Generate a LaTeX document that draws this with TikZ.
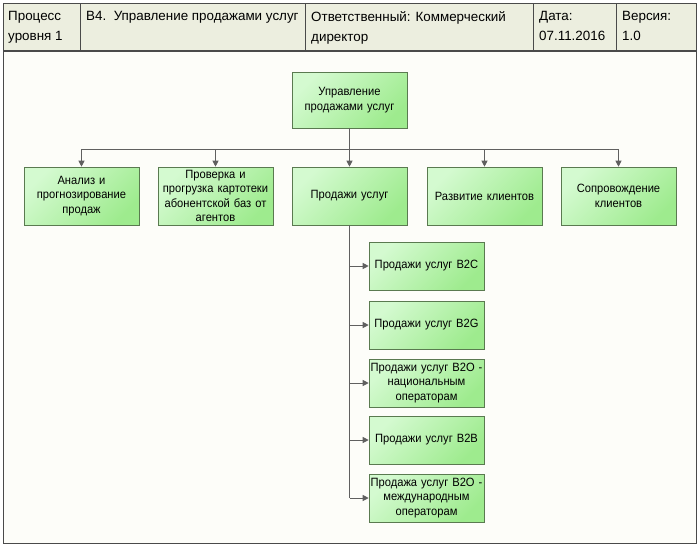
\documentclass[tikz,border=0pt]{standalone}
\usepackage{fontspec}
\setmainfont{Liberation Sans}
\newfontfamily\boxfont[FakeStretch=0.93]{Liberation Sans}
\usetikzlibrary{arrows.meta}
\definecolor{hdr}{HTML}{ECEEDF}
\definecolor{bg}{HTML}{FDFDF9}
\definecolor{bord}{HTML}{4A4A4A}
\definecolor{gA}{HTML}{D4FAD0}
\definecolor{gB}{HTML}{9EEB8E}
\definecolor{boxline}{HTML}{5A7A50}
\definecolor{conn}{HTML}{606060}
\tikzset{
  proc/.style={draw=boxline, line width=0.6pt, left color=gA, right color=gB, shading angle=45,
    minimum width=115pt, align=center, inner sep=1pt, font=\boxfont\fontsize{12}{14.5}\selectfont, text width=113pt},
  hdrtext/.style={anchor=north west, align=left, font=\fontsize{13.4}{20}\selectfont, inner sep=0pt},
  link/.style={draw=conn, line width=1pt, -{Triangle[length=6pt,width=6pt]}},
  linkline/.style={draw=conn, line width=1pt}
}
\begin{document}
\begin{tikzpicture}[x=1pt,y=-1pt]
\useasboundingbox (0,0) rectangle (699,547);
\fill[bg] (3,3) rectangle (696,543);
\fill[hdr] (3,3) rectangle (696,51);
\draw[bord, line width=0.8pt] (3,3) rectangle (696,543);
\draw[bord, line width=2pt] (3,51) -- (696,51);
\foreach \x in {80,305,533,616} \draw[bord, line width=0.8pt] (\x,3) -- (\x,51);
\node[hdrtext] (h1) at (8,11) {Процесс\\уровня 1};
\node[hdrtext] (h2) at (86,11) {B4.\ \ Управление продажами услуг};
\node[hdrtext] (h3) at (311,11) {Ответственный: Коммерческий\\директор};
\node[hdrtext] (h4) at (539,11) {Дата:\\07.11.2016};
\node[hdrtext] (h5) at (622,11) {Версия:\\1.0};

\node[proc, minimum height=56pt] (top) at (349.5,100) {Управление\\продажами услуг};
\node[proc, minimum height=58pt] (b1) at (81.5,196) {Анализ и\\прогнозирование\\продаж};
\node[proc, minimum height=58pt] (b2) at (215.5,196) {Проверка и\\прогрузка картотеки\\абонентской баз от\\агентов};
\node[proc, minimum height=58pt] (b3) at (349.5,196) {Продажи услуг};
\node[proc, minimum height=58pt] (b4) at (484.5,196) {Развитие клиентов};
\node[proc, minimum height=58pt] (b5) at (618.5,196) {Сопровождение\\клиентов};

\node[proc, minimum height=48pt] (s1) at (426.5,266) {Продажи услуг B2C};
\node[proc, minimum height=48pt] (s2) at (426.5,325) {Продажи услуг B2G};
\node[proc, minimum height=48pt] (s3) at (426.5,383) {Продажи услуг B2O -\\национальным\\операторам};
\node[proc, minimum height=48pt] (s4) at (426.5,440) {Продажи услуг B2B};
\node[proc, minimum height=48pt] (s5) at (426.5,498) {Продажа услуг B2O -\\международным\\операторам};

\coordinate (bus) at (349.5,149);
\draw[linkline] (top.south) -- (bus);
\draw[linkline] (b1.north |- bus) -- (b5.north |- bus);
\foreach \b in {b1,b2,b3,b4,b5} \draw[link] (\b.north |- bus) -- (\b.north);
\coordinate (tr) at (349.5,498);
\draw[linkline] (b3.south) -- (tr);
\foreach \s in {s1,s2,s3,s4,s5} \draw[link] (b3.south |- \s.west) -- (\s.west);
\end{tikzpicture}
\end{document}
